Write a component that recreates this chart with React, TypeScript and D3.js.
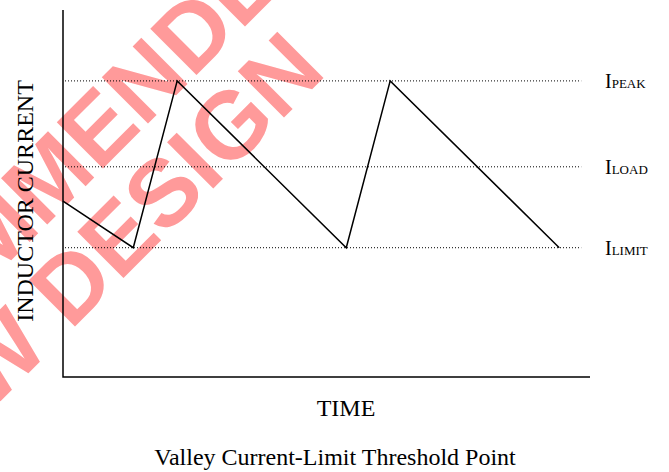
import React from 'react';
import * as d3 from 'd3';

// inductor current waveform (time in arbitrary units, current in arbitrary units)
const waveTime = [0, 1.6, 2.6, 6.45, 7.45, 11.3];
const waveCurrent = [2.56, 2, 4, 2, 4, 2];

// threshold levels
const levelNames = ['PEAK', 'LOAD', 'LIMIT'];
const levelValues = [4, 2.97, 2];

const xLabel = 'TIME';
const yLabel = 'INDUCTOR CURRENT';
const title = 'Valley Current-Limit Threshold Point';
const watermark = ['NOT RECOMMENDED', 'FOR NEW DESIGN'];

const W = 669;
const H = 472;
const margin = { left: 63, right: 79, top: 10, bottom: 95 };

export default function App() {
  const x = d3.scaleLinear().domain([0, 12]).range([margin.left, W - margin.right]);
  const y = d3.scaleLinear().domain([0.45, 4.85]).range([H - margin.bottom, margin.top]);

  const pts = waveTime.map((t, i) => [t, waveCurrent[i]] as [number, number]);
  const line = d3
    .line<[number, number]>()
    .x((d) => x(d[0]))
    .y((d) => y(d[1]));

  const serif = '"Liberation Serif", "Times New Roman", serif';

  return (
    <svg
      width={W}
      height={H}
      style={{ position: 'absolute', left: 0, top: 0, background: '#fff' }}
    >
      {/* watermark */}
      <g
        transform="rotate(-45)"
        fill="#ff9a9a"
        fontFamily='"Liberation Sans", Arial, sans-serif'
        fontWeight="bold"
        fontSize={95}
        textAnchor="end"
      >
        <text x={280} y={192}>{watermark[0]}</text>
        <text x={180} y={284}>{watermark[1]}</text>
      </g>

      {/* threshold lines */}
      {levelValues.map((v, i) => (
        <line
          key={levelNames[i]}
          x1={x(0) + 2}
          x2={x(11.8)}
          y1={y(v)}
          y2={y(v)}
          stroke="#000"
          strokeWidth={1}
          strokeDasharray="1,2"
        />
      ))}

      {/* axes */}
      <path
        d={`M${x(0)},${y(4.85)}V${y(0.45)}H${x(12)}`}
        fill="none"
        stroke="#000"
        strokeWidth={1.5}
      />

      {/* waveform */}
      <path d={line(pts) || ''} fill="none" stroke="#000" strokeWidth={1.5} />

      {/* level labels */}
      {levelValues.map((v, i) => (
        <text key={'l' + i} x={605} y={y(v) + 7} fontFamily={serif} fontSize={20} fill="#000">
          I<tspan fontSize={13}>{levelNames[i]}</tspan>
        </text>
      ))}

      <text x={346} y={416} textAnchor="middle" fontFamily={serif} fontSize={24}>
        {xLabel}
      </text>
      <text
        transform={`translate(33,${(80 + 322) / 2}) rotate(-90)`}
        textAnchor="middle"
        fontFamily={serif}
        fontSize={24}
      >
        {yLabel}
      </text>
      <text x={335} y={465} textAnchor="middle" fontFamily={serif} fontSize={24}>
        {title}
      </text>
    </svg>
  );
}
